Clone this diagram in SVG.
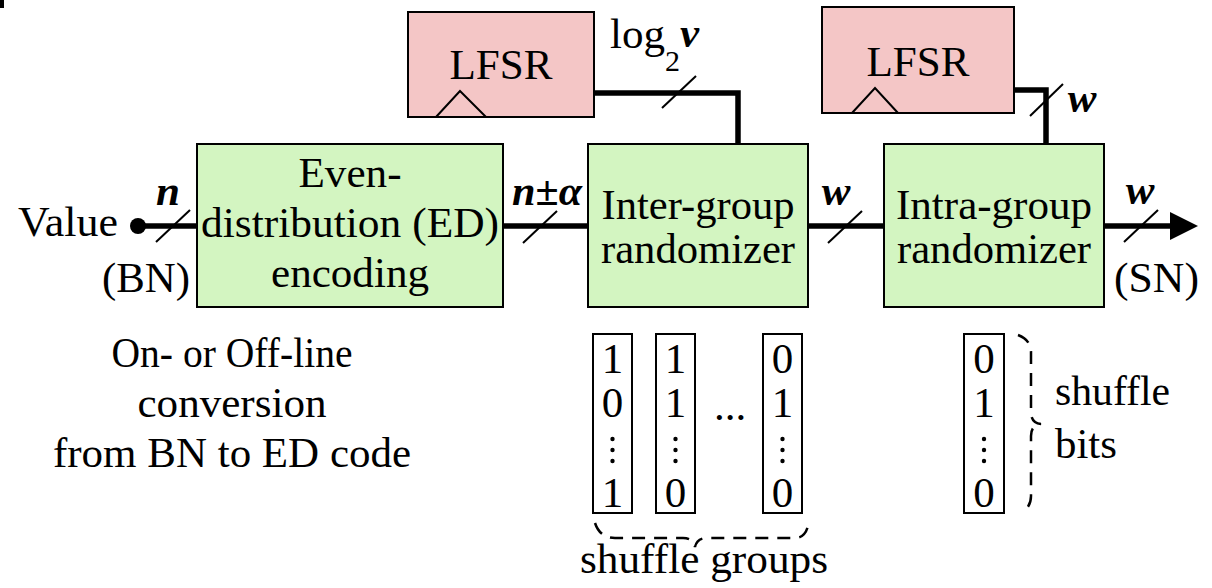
<svg xmlns="http://www.w3.org/2000/svg" width="1212" height="588" viewBox="0 0 1212 588" font-family="'Liberation Serif', 'DejaVu Serif', serif">
<style>
.t{font-family:'Liberation Serif','Times New Roman','DejaVu Serif',serif;font-size:43px;fill:#000}
.m{text-anchor:middle}
.bi{font-style:italic;font-weight:bold}
.lfsr{fill:#f4c6c6;stroke:#000;stroke-width:2}
.blk{fill:#d3f5c1;stroke:#000;stroke-width:2}
.wire{fill:none;stroke:#000;stroke-width:5.5}
.sl{stroke:#000;stroke-width:2}
.clk{fill:none;stroke:#000;stroke-width:2}
.col{fill:none;stroke:#000;stroke-width:2}
.br{fill:none;stroke:#000;stroke-width:2.5;stroke-dasharray:13 9}
</style>
<rect x="0" y="0" width="4" height="8" fill="#000"/>
<g id="connectors">
<circle cx="138" cy="226" r="8" fill="#000"/>
<line class="wire" x1="138" y1="226" x2="197" y2="226"/>
<line class="wire" x1="503" y1="226" x2="588" y2="226"/>
<line class="wire" x1="808" y1="226" x2="884" y2="226"/>
<line class="wire" x1="1104" y1="226" x2="1174" y2="226"/>
<polygon points="1170,212 1198,226 1170,240" fill="#000"/>
<polyline class="wire" points="594,93 738,93 738,144"/>
<polyline class="wire" points="1014,90 1046,90 1046,144"/>
<line class="sl" x1="156" y1="242" x2="190" y2="210"/>
<line class="sl" x1="523" y1="243" x2="557" y2="211"/>
<line class="sl" x1="828" y1="243" x2="862" y2="211"/>
<line class="sl" x1="1124" y1="242" x2="1158" y2="210"/>
<line class="sl" x1="662" y1="108" x2="696" y2="76"/>
<line class="sl" x1="1030" y1="116" x2="1063" y2="84"/>
<text class="t bi m" x="168" y="205">n</text>
<text class="t bi m" x="547" y="205" textLength="70" lengthAdjust="spacingAndGlyphs">n±α</text>
<text class="t bi m" x="836" y="205">w</text>
<text class="t bi m" x="1140" y="204">w</text>
<text class="t bi m" x="1082" y="112">w</text>
<text class="t" x="610" y="48"><tspan textLength="55" lengthAdjust="spacingAndGlyphs">log</tspan><tspan font-size="30" dy="23">2</tspan><tspan class="bi" dy="-24">v</tspan></text>
</g>
<g id="value">
<text class="t" x="18" y="236" textLength="100" lengthAdjust="spacingAndGlyphs">Value</text>
<text class="t" x="102" y="292" textLength="88" lengthAdjust="spacingAndGlyphs">(BN)</text>
</g>
<g id="sn">
<text class="t" x="1114" y="292" textLength="85" lengthAdjust="spacingAndGlyphs">(SN)</text>
</g>
<g id="lfsr1">
<rect class="lfsr" x="408" y="12" width="186" height="105"/>
<polyline class="clk" points="436,117 460,91 486,117"/>
<text class="t m" x="501" y="79" textLength="103" lengthAdjust="spacingAndGlyphs">LFSR</text>
</g>
<g id="lfsr2">
<rect class="lfsr" x="822" y="7" width="192" height="106"/>
<polyline class="clk" points="852,113 875,88 898,113"/>
<text class="t m" x="918" y="76" textLength="103" lengthAdjust="spacingAndGlyphs">LFSR</text>
</g>
<g id="ed">
<rect class="blk" x="197" y="144" width="306" height="163"/>
<text class="t m" x="350" y="187" textLength="103" lengthAdjust="spacingAndGlyphs">Even-</text>
<text class="t m" x="350" y="237" textLength="298" lengthAdjust="spacingAndGlyphs">distribution (ED)</text>
<text class="t m" x="350" y="287" textLength="158" lengthAdjust="spacingAndGlyphs">encoding</text>
</g>
<g id="inter">
<rect class="blk" x="588" y="144" width="220" height="163"/>
<text class="t m" x="698" y="219" textLength="193" lengthAdjust="spacingAndGlyphs">Inter-group</text>
<text class="t m" x="698" y="263" textLength="194" lengthAdjust="spacingAndGlyphs">randomizer</text>
</g>
<g id="intra">
<rect class="blk" x="884" y="144" width="220" height="163"/>
<text class="t m" x="994" y="219" textLength="196" lengthAdjust="spacingAndGlyphs">Intra-group</text>
<text class="t m" x="994" y="263" textLength="194" lengthAdjust="spacingAndGlyphs">randomizer</text>
</g>
<g id="conversion-note">
<text class="t m" x="232" y="367" textLength="241" lengthAdjust="spacingAndGlyphs">On- or Off-line</text>
<text class="t m" x="232" y="417" textLength="189" lengthAdjust="spacingAndGlyphs">conversion</text>
<text class="t m" x="232" y="467" textLength="358" lengthAdjust="spacingAndGlyphs">from BN to ED code</text>
</g>
<g id="groups">
<rect class="col" x="593" y="334" width="39" height="179"/>
<text class="t m" x="612.5" y="373">1</text>
<text class="t m" x="612.5" y="417">0</text>
<circle cx="612.5" cy="439" r="2.2"/><circle cx="612.5" cy="450" r="2.2"/><circle cx="612.5" cy="461" r="2.2"/>
<text class="t m" x="612.5" y="507">1</text>
<rect class="col" x="656" y="334" width="39" height="179"/>
<text class="t m" x="675.5" y="373">1</text>
<text class="t m" x="675.5" y="417">1</text>
<circle cx="675.5" cy="439" r="2.2"/><circle cx="675.5" cy="450" r="2.2"/><circle cx="675.5" cy="461" r="2.2"/>
<text class="t m" x="675.5" y="507">0</text>
<text class="t m" x="730" y="420">...</text>
<rect class="col" x="763" y="334" width="39" height="179"/>
<text class="t m" x="782.5" y="373">0</text>
<text class="t m" x="782.5" y="417">1</text>
<circle cx="782.5" cy="439" r="2.2"/><circle cx="782.5" cy="450" r="2.2"/><circle cx="782.5" cy="461" r="2.2"/>
<text class="t m" x="782.5" y="507">0</text>
<path class="br" d="M595,523 Q600,538 615,538 L683,538 Q693,538 695,547 Q697,538 707,538 L795,538 Q805,538 808,526"/>
<text class="t m" x="704" y="573" textLength="248" lengthAdjust="spacingAndGlyphs">shuffle groups</text>
</g>
<g id="bits">
<rect class="col" x="964" y="334" width="40" height="179"/>
<text class="t m" x="984" y="373">0</text>
<text class="t m" x="984" y="417">1</text>
<circle cx="984" cy="439" r="2.2"/><circle cx="984" cy="450" r="2.2"/><circle cx="984" cy="461" r="2.2"/>
<text class="t m" x="984" y="507">0</text>
<path class="br" d="M1018,335 Q1031,340 1031,352 L1031,412 Q1031,423 1041,424 Q1031,425 1031,436 L1031,496 Q1031,505 1025,510"/>
<text class="t" x="1055" y="405" textLength="115" lengthAdjust="spacingAndGlyphs">shuffle</text>
<text class="t" x="1055" y="458" textLength="62" lengthAdjust="spacingAndGlyphs">bits</text>
</g>
</svg>
